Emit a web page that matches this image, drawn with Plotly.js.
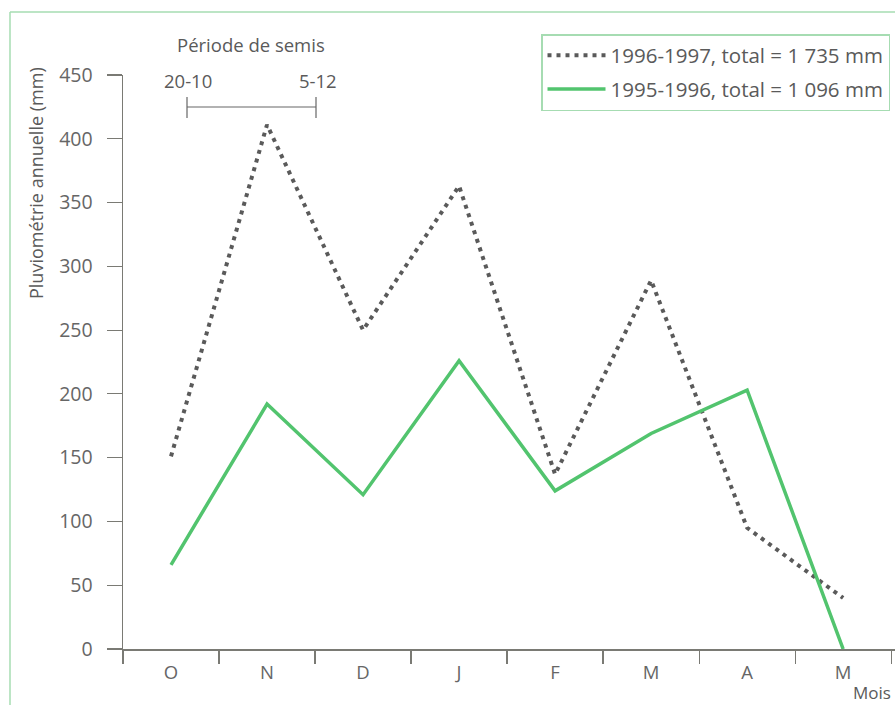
<!DOCTYPE html>
<html>
<head>
<meta charset="utf-8">
<script src="https://cdn.plot.ly/plotly-3.0.1.min.js"></script>
<style>
html,body{margin:0;padding:0;background:#fff;}
#chart{width:895px;height:705px;}
</style>
</head>
<body>
<div id="chart"></div>
<script>
// Data
var months = ["O", "N", "D", "J", "F", "M", "A", "M"];
var rain9697 = [151, 411, 250, 363, 137, 289, 95, 40];
var rain9596 = [66, 192, 121, 226, 124, 169, 203, 0];
var name9697 = "1996-1997, total = 1 735 mm";
var name9596 = "1995-1996, total = 1 096 mm";
var yTicks = [0, 50, 100, 150, 200, 250, 300, 350, 400, 450];

var xIdx = months.map(function (m, i) { return i; });

// pixel helpers (plot area: x 123..895, y 75..649)
var L = 123, R = 895, T = 75, B = 649;
function px(x) { return (x - L) / (R - L); }
function py(y) { return (B - y) / (B - T); }

var font = "'Open Sans', Lato, sans-serif";
var grey = "#666";
var txt = "#5a5a5a";
var axisCol = "#7a7a74";
var frameCol = "#a6dcb2";

var traces = [
  {
    x: xIdx, y: rain9697, type: "scatter", mode: "lines", name: name9697,
    legendgroup: "a",
    line: { color: "#5a5a5a", width: 4, dash: "4px,5px" }
  },
  {
    x: xIdx, y: rain9596, type: "scatter", mode: "lines", name: name9596,
    legendgroup: "b",
    line: { color: "#52c46e", width: 3.5 }
  }
];

var layout = {
  width: 895, height: 705,
  margin: { l: L, r: 895 - R, t: T, b: 705 - B },
  paper_bgcolor: "#fff", plot_bgcolor: "#fff",
  font: { family: font, color: grey, size: 19 },
  showlegend: true,
  legend: {
    x: px(541), y: py(34), xanchor: "left", yanchor: "top",
    bordercolor: frameCol, borderwidth: 1.5, bgcolor: "#fff",
    font: { family: font, size: 20.5, color: txt },
    tracegroupgap: 4, itemwidth: 58
  },
  xaxis: {
    range: [-0.5, 7.54], tickmode: "array", tickvals: xIdx, ticktext: months,
    ticks: "", showgrid: false, zeroline: false,
    showline: true, linecolor: axisCol, linewidth: 1.5,
    tickfont: { size: 18.5, color: grey },
    ticklabelstandoff: 6,
    minor: { tickmode: "linear", tick0: -0.5, dtick: 1, ticks: "outside", ticklen: 13, tickcolor: axisCol, tickwidth: 1.2, showgrid: false },
    fixedrange: true
  },
  yaxis: {
    range: [0, 450], tickmode: "array", tickvals: yTicks,
    ticks: "outside", ticklen: 15, tickcolor: axisCol, tickwidth: 1.2,
    showgrid: false, zeroline: false,
    showline: true, linecolor: axisCol, linewidth: 1.5,
    tickfont: { size: 19.5, color: grey },
    ticklabelstandoff: 10,
    fixedrange: true
  },
  annotations: [
    { xref: "paper", yref: "paper", x: px(36), y: py(183), text: "Pluviométrie annuelle (mm)", textangle: -90, showarrow: false, font: { size: 18, color: txt }, xanchor: "center", yanchor: "middle" },
    { xref: "paper", yref: "paper", x: px(251), y: py(44), text: "Période de semis", showarrow: false, font: { size: 18.5, color: txt }, xanchor: "center", yanchor: "middle" },
    { xref: "paper", yref: "paper", x: px(188), y: py(80), text: "20-10", showarrow: false, font: { size: 18.5, color: txt }, xanchor: "center", yanchor: "middle" },
    { xref: "paper", yref: "paper", x: px(318), y: py(80), text: "5-12", showarrow: false, font: { size: 18.5, color: txt }, xanchor: "center", yanchor: "middle" },
    { xref: "paper", yref: "paper", x: px(872), y: py(692), text: "Mois", showarrow: false, font: { size: 17, color: txt }, xanchor: "center", yanchor: "middle" }
  ],
  shapes: [
    // sowing period bracket
    { type: "line", xref: "paper", yref: "paper", x0: px(187), x1: px(316), y0: py(107), y1: py(107), line: { color: "#666", width: 1.2 } },
    { type: "line", xref: "paper", yref: "paper", x0: px(187), x1: px(187), y0: py(97), y1: py(118), line: { color: "#666", width: 1.2 } },
    { type: "line", xref: "paper", yref: "paper", x0: px(316), x1: px(316), y0: py(97), y1: py(118), line: { color: "#666", width: 1.2 } },
    // outer frame lines
    { type: "line", xref: "paper", yref: "paper", x0: px(10), x1: px(895), y0: py(12), y1: py(12), line: { color: frameCol, width: 1.5 } },
    { type: "line", xref: "paper", yref: "paper", x0: px(10), x1: px(10), y0: py(12), y1: py(705), line: { color: frameCol, width: 1.5 } }
  ]
};

Plotly.newPlot("chart", traces, layout, { displayModeBar: false, staticPlot: true });
</script>
</body>
</html>
